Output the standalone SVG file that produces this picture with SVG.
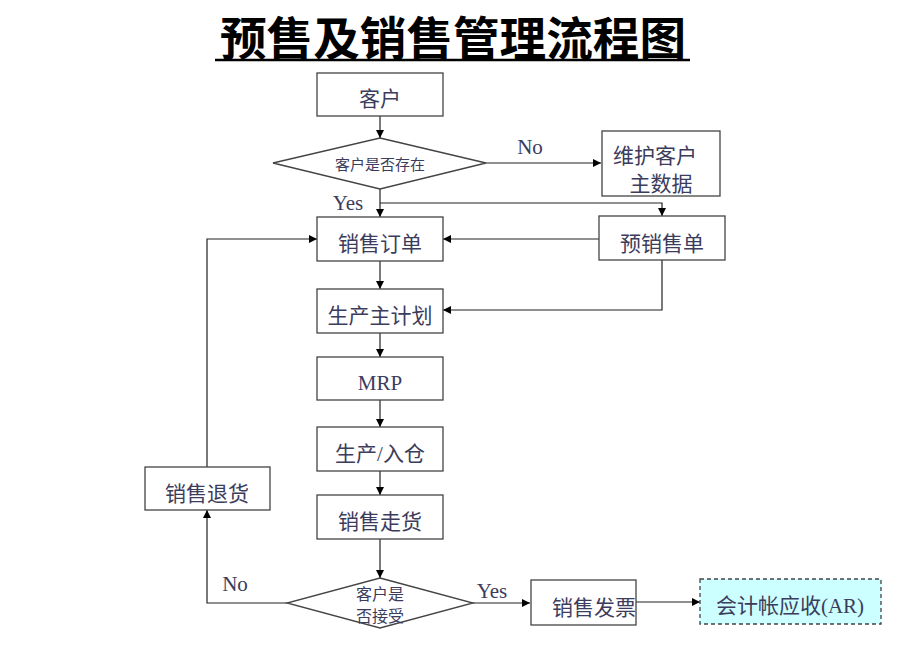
<svg xmlns="http://www.w3.org/2000/svg" width="920" height="658" viewBox="0 0 920 658">
<defs>
<marker id="ah" viewBox="0 0 10 10" refX="10" refY="5" markerWidth="8" markerHeight="8" markerUnits="userSpaceOnUse" orient="auto">
<path d="M0,0 L10,5 L0,10 z" fill="#000"/>
</marker>
<style>
.box{fill:#fff;stroke:#444;stroke-width:1.3}
.t{font-family:"Liberation Serif","Noto Sans CJK SC",serif;fill:#3c3c5c;text-anchor:middle}
.c{fill:none;stroke:#222;stroke-width:1.2;marker-end:url(#ah)}
</style>
</defs>
<rect width="920" height="658" fill="#fff"/>
<g id="title">
<text x="453" y="55" font-family="'Liberation Serif','Noto Sans CJK SC',serif" font-size="46" font-weight="bold" text-anchor="middle" fill="#000" textLength="466" lengthAdjust="spacingAndGlyphs">预售及销售管理流程图</text>
<line x1="215" y1="60" x2="690" y2="60" stroke="#000" stroke-width="2.5"/>
</g>
<g id="connectors">
<line class="c" x1="380" y1="116" x2="380" y2="138"/>
<line class="c" x1="486" y1="163" x2="601" y2="163"/>
<line class="c" x1="380" y1="189" x2="380" y2="217"/>
<polyline class="c" points="380,203 662,203 662,216"/>
<line class="c" x1="599" y1="239" x2="443" y2="239"/>
<polyline class="c" points="207,467 207,239 317,239"/>
<line class="c" x1="380" y1="261" x2="380" y2="289"/>
<polyline class="c" points="662,260 662,310 443,310"/>
<line class="c" x1="380" y1="333" x2="380" y2="357"/>
<line class="c" x1="380" y1="400" x2="380" y2="427"/>
<line class="c" x1="380" y1="471" x2="380" y2="495"/>
<line class="c" x1="380" y1="539" x2="380" y2="578"/>
<polyline class="c" points="287,603 207,603 207,510"/>
<line class="c" x1="473" y1="603" x2="530" y2="603"/>
<line class="c" x1="636" y1="602" x2="700" y2="602"/>
<text class="t" x="530" y="154" font-size="21">No</text>
<text class="t" x="348" y="210" font-size="21">Yes</text>
<text class="t" x="235" y="591" font-size="21">No</text>
<text class="t" x="492" y="598" font-size="21">Yes</text>
</g>
<g id="n-customer">
<rect class="box" x="317" y="73" width="126" height="43"/>
<text class="t" x="380" y="106" font-size="21">客户</text>
</g>
<g id="n-exists">
<polygon class="box" points="380,138 486,163 380,189 273,163"/>
<text class="t" x="380" y="170" font-size="15">客户是否存在</text>
</g>
<g id="n-maintain">
<rect class="box" x="602" y="131" width="118" height="65"/>
<text class="t" x="655" y="163" font-size="21">维护客户</text>
<text class="t" x="661" y="191" font-size="21">主数据</text>
</g>
<g id="n-so">
<rect class="box" x="317" y="217" width="126" height="44"/>
<text class="t" x="380" y="251" font-size="21">销售订单</text>
</g>
<g id="n-preso">
<rect class="box" x="599" y="216" width="126" height="44"/>
<text class="t" x="662" y="251" font-size="21">预销售单</text>
</g>
<g id="n-mps">
<rect class="box" x="317" y="289" width="126" height="44"/>
<text class="t" x="380" y="323" font-size="21">生产主计划</text>
</g>
<g id="n-mrp">
<rect class="box" x="317" y="357" width="126" height="43"/>
<text class="t" x="380" y="390" font-size="21">MRP</text>
</g>
<g id="n-prod">
<rect class="box" x="317" y="427" width="126" height="44"/>
<text class="t" x="380" y="461" font-size="21">生产/入仓</text>
</g>
<g id="n-ship">
<rect class="box" x="317" y="495" width="126" height="44"/>
<text class="t" x="380" y="529" font-size="21">销售走货</text>
</g>
<g id="n-return">
<rect class="box" x="145" y="467" width="125" height="43"/>
<text class="t" x="207" y="501" font-size="21">销售退货</text>
</g>
<g id="n-accept">
<polygon class="box" points="380,578 473,603 380,628 287,603"/>
<text class="t" x="380" y="600" font-size="16">客户是</text>
<text class="t" x="380" y="622" font-size="16">否接受</text>
</g>
<g id="n-invoice">
<rect class="box" x="531" y="580" width="105" height="45"/>
<text class="t" x="594" y="615" font-size="21">销售发票</text>
</g>
<g id="n-ar">
<rect x="700" y="579" width="181" height="45" fill="#ccffff" stroke="#444" stroke-width="1.3" stroke-dasharray="4,3"/>
<text class="t" x="790" y="613" font-size="21">会计帐应收(AR)</text>
</g>
</svg>
